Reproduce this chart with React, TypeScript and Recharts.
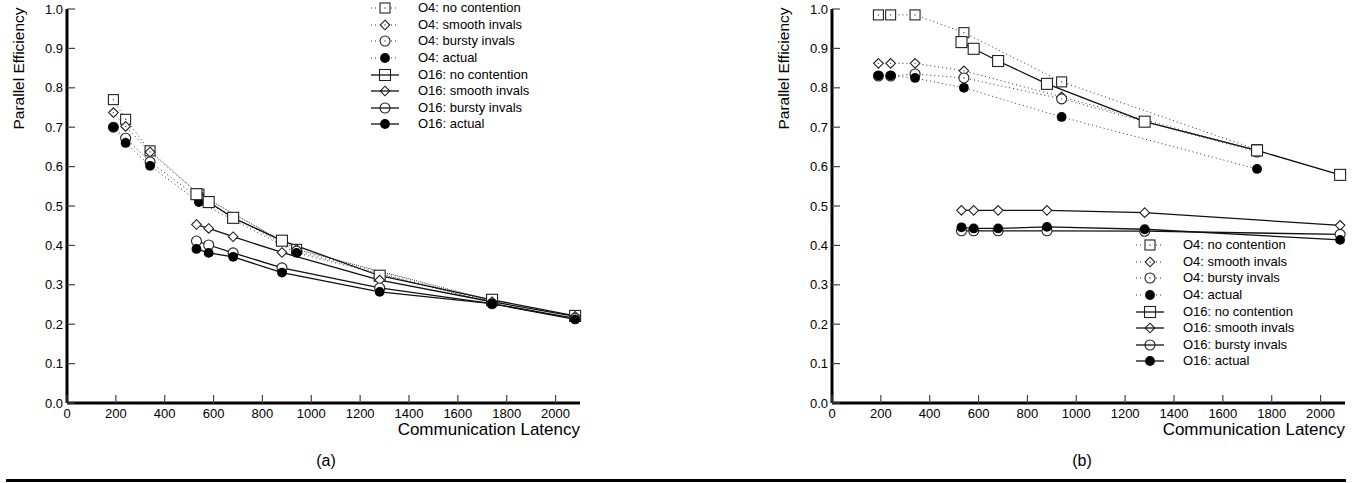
import { LineChart, Line, XAxis, YAxis, Legend, Label } from 'recharts';

// communication latency of each measured point
const o4Latency = [190, 240, 340, 540, 940, 1740];
const o16Latency = [530, 580, 680, 880, 1280, 1740, 2080];
const o16LatencyB = [530, 580, 680, 880, 1280, 2080];

// panel (a)
const aO4NoContention = [0.77, 0.72, 0.64, 0.53, 0.39, 0.26];
const aO4Smooth = [0.737, 0.702, 0.637, 0.53, 0.39, 0.258];
const aO4Bursty = [0.70, 0.672, 0.612, 0.52, 0.385, 0.255];
const aO4Actual = [0.70, 0.66, 0.602, 0.51, 0.381, 0.254];
const aO16NoContention = [0.53, 0.51, 0.47, 0.412, 0.323, 0.262, 0.221];
const aO16Smooth = [0.453, 0.443, 0.422, 0.382, 0.312, 0.257, 0.22];
const aO16Bursty = [0.411, 0.401, 0.381, 0.343, 0.292, 0.252, 0.215];
const aO16Actual = [0.391, 0.381, 0.371, 0.331, 0.282, 0.252, 0.212];

// panel (b)
const bO4NoContention = [0.985, 0.985, 0.985, 0.94, 0.815, 0.643];
const bO4Smooth = [0.862, 0.862, 0.862, 0.843, 0.777, 0.64];
const bO4Bursty = [0.83, 0.83, 0.835, 0.825, 0.772, 0.637];
const bO4Actual = [0.831, 0.831, 0.825, 0.80, 0.726, 0.594];
const bO16NoContention = [0.916, 0.899, 0.868, 0.81, 0.714, 0.641, 0.579];
const bO16Smooth = [0.489, 0.489, 0.489, 0.489, 0.483, 0.451];
const bO16Bursty = [0.437, 0.437, 0.437, 0.437, 0.436, 0.428];
const bO16Actual = [0.446, 0.443, 0.443, 0.447, 0.441, 0.414];

const seriesNames = [
  'O4: no contention',
  'O4: smooth invals',
  'O4: bursty invals',
  'O4: actual',
  'O16: no contention',
  'O16: smooth invals',
  'O16: bursty invals',
  'O16: actual',
];
const markerKinds = ['square', 'diamond', 'circle', 'filled', 'square', 'diamond', 'circle', 'filled'];

const xTicks = [0, 200, 400, 600, 800, 1000, 1200, 1400, 1600, 1800, 2000];
const yTicks = [0, 0.1, 0.2, 0.3, 0.4, 0.5, 0.6, 0.7, 0.8, 0.9, 1.0];

const FONT = '"Liberation Sans", Arial, Helvetica, sans-serif';

const zip = (xs: number[], ys: number[]) => xs.map((x, i) => ({ x, y: ys[i] }));

function marker(kind: string, cx: number, cy: number, o4: boolean, key?: any) {
  const stroke = '#222';
  if (kind === 'square') {
    const s = o4 ? 5 : 5.5;
    return (
      <g key={key}>
        <rect x={cx - s} y={cy - s} width={2 * s} height={2 * s} fill="#fff" stroke={stroke} strokeWidth={1.1} />
        {o4 && <circle cx={cx} cy={cy} r={0.7} fill="#333" />}
      </g>
    );
  }
  if (kind === 'diamond') {
    const s = 4.8;
    return (
      <g key={key}>
        <polygon
          points={`${cx},${cy - s} ${cx + s},${cy} ${cx},${cy + s} ${cx - s},${cy}`}
          fill="#fff"
          stroke={stroke}
          strokeWidth={1.1}
        />
        {o4 && <circle cx={cx} cy={cy} r={0.7} fill="#333" />}
      </g>
    );
  }
  if (kind === 'circle') {
    return (
      <g key={key}>
        <circle cx={cx} cy={cy} r={5} fill="#fff" stroke={stroke} strokeWidth={1.1} />
        {o4 && <circle cx={cx} cy={cy} r={0.7} fill="#333" />}
      </g>
    );
  }
  return <circle key={key} cx={cx} cy={cy} r={4.9} fill="#000" />;
}

const XTick = (props: any) => {
  const { x, y, payload } = props;
  return (
    <g>
      <line x1={x} x2={x} y1={y} y2={y - 8} stroke="#444" strokeWidth={1.2} />
      <text x={x} y={y + 15} textAnchor="middle" fontSize={13} fontFamily={FONT} fill="#000">
        {payload.value}
      </text>
    </g>
  );
};

const YTick = (props: any) => {
  const { x, y, payload } = props;
  return (
    <g>
      <line x1={x} x2={x + 8} y1={y} y2={y} stroke="#444" strokeWidth={1.2} />
      <text x={x - 4} y={y + 4.6} textAnchor="end" fontSize={13} fontFamily={FONT} fill="#000">
        {Number(payload.value).toFixed(1)}
      </text>
    </g>
  );
};

function LegendBox() {
  return (
    <div style={{ fontFamily: FONT, fontSize: 13, color: '#000' }}>
      {seriesNames.map((name, i) => {
        const o4 = i < 4;
        const kind = markerKinds[i];
        return (
          <div key={name} style={{ display: 'flex', alignItems: 'center', height: 16.6 }}>
            <svg width={30} height={16} style={{ display: 'block' }}>
              {o4 ? (
                <g>
                  <line x1={1} x2={9} y1={8} y2={8} stroke="#333" strokeDasharray="1 3" />
                  <line x1={21} x2={29} y1={8} y2={8} stroke="#333" strokeDasharray="1 3" />
                  {marker(kind, 15, 8, true)}
                </g>
              ) : (
                <g>
                  {marker(kind, 15, 8, false)}
                  <line x1={1} x2={29} y1={8} y2={8} stroke="#111" strokeWidth={1.3} />
                </g>
              )}
            </svg>
            <span style={{ marginLeft: 18, whiteSpace: 'nowrap', lineHeight: '16px' }}>{name}</span>
          </div>
        );
      })}
    </div>
  );
}

function Panel({ data, left, legendTop }: { data: { x: number; y: number }[][]; left: number; legendTop: number }) {
  return (
    <div style={{ position: 'absolute', left, top: 0 }}>
      <LineChart width={600} height={483} margin={{ top: 9, right: 20, bottom: 0, left: 0 }}>
        <XAxis
          dataKey="x"
          type="number"
          domain={[0, 2100]}
          ticks={xTicks}
          height={80}
          tickSize={0}
          tickMargin={0}
          tickLine={false}
          tick={<XTick />}
          axisLine={{ stroke: '#000', strokeWidth: 3 }}
        >
          <Label
            content={(p: any) => {
              const vb = p.viewBox;
              return (
                <text x={vb.x + vb.width} y={vb.y + 32} textAnchor="end" fontSize={17} fontFamily={FONT} fill="#000">
                  Communication Latency
                </text>
              );
            }}
          />
        </XAxis>
        <YAxis
          type="number"
          domain={[0, 1]}
          ticks={yTicks}
          width={67}
          tickSize={0}
          tickMargin={0}
          tickLine={false}
          tick={<YTick />}
          axisLine={{ stroke: '#000', strokeWidth: 3 }}
        >
          <Label
            content={(p: any) => {
              const vb = p.viewBox;
              const cx = vb.x + 18;
              const cy = vb.y + 59.5;
              return (
                <text
                  x={cx}
                  y={cy}
                  transform={`rotate(-90, ${cx}, ${cy})`}
                  textAnchor="middle"
                  dominantBaseline="central"
                  fontSize={15.5}
                  fontFamily={FONT}
                  fill="#000"
                >
                  Parallel Efficiency
                </text>
              );
            }}
          />
        </YAxis>
        <Legend
          layout="vertical"
          align="center"
          verticalAlign="middle"
          content={() => <LegendBox />}
          wrapperStyle={{ left: 370, top: legendTop, width: 200, height: 133 }}
        />
        {data.map((d, i) => {
          const o4 = i < 4;
          const kind = markerKinds[i];
          return (
            <Line
              key={seriesNames[i]}
              name={seriesNames[i]}
              data={d}
              dataKey="y"
              type="linear"
              stroke={o4 ? '#333' : '#111'}
              strokeWidth={o4 ? 1 : 1.3}
              strokeDasharray={o4 ? '1 3' : undefined}
              isAnimationActive={false}
              activeDot={false}
              dot={(p: any) => marker(kind, p.cx, p.cy, o4, `${seriesNames[i]}-${p.index}`)}
            />
          );
        })}
      </LineChart>
    </div>
  );
}

export default function App() {
  const panelA = [
    zip(o4Latency, aO4NoContention),
    zip(o4Latency, aO4Smooth),
    zip(o4Latency, aO4Bursty),
    zip(o4Latency, aO4Actual),
    zip(o16Latency, aO16NoContention),
    zip(o16Latency, aO16Smooth),
    zip(o16Latency, aO16Bursty),
    zip(o16Latency, aO16Actual),
  ];
  const panelB = [
    zip(o4Latency, bO4NoContention),
    zip(o4Latency, bO4Smooth),
    zip(o4Latency, bO4Bursty),
    zip(o4Latency, bO4Actual),
    zip(o16Latency, bO16NoContention),
    zip(o16LatencyB, bO16Smooth),
    zip(o16LatencyB, bO16Bursty),
    zip(o16LatencyB, bO16Actual),
  ];
  const caption = { position: 'absolute' as const, top: 452, width: 40, textAlign: 'center' as const, fontFamily: FONT, fontSize: 16, lineHeight: '18px' };
  return (
    <div style={{ position: 'absolute', left: 0, top: 0, width: 1367, height: 483, background: '#fff', overflow: 'hidden' }}>
      <Panel data={panelA} left={0} legendTop={0} />
      <Panel data={panelB} left={765} legendTop={237} />
      <div style={{ ...caption, left: 306 }}>(a)</div>
      <div style={{ ...caption, left: 1062 }}>(b)</div>
      <div style={{ position: 'absolute', left: 6, top: 479, width: 1340, height: 3, background: '#000' }} />
    </div>
  );
}
